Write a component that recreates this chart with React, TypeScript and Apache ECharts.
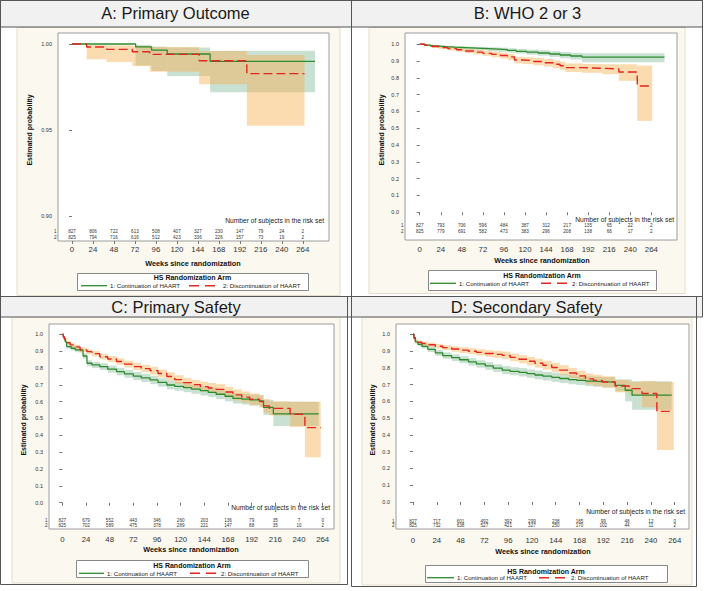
import React, { useEffect, useRef } from "react";
import * as echarts from "echarts";

const FONT = '"Liberation Sans", Arial, sans-serif';
const GREEN = "#2e8b2e";
const RED = "#e3261f";
const GREEN_BAND = "rgba(100,170,130,0.35)";
const ORANGE_BAND = "rgba(247,175,80,0.45)";

const weekTicks = [0, 24, 48, 72, 96, 120, 144, 168, 192, 216, 240, 264];
const probTicksA = [0.9, 0.95, 1.0];
const probTicks = [0, 0.1, 0.2, 0.3, 0.4, 0.5, 0.6, 0.7, 0.8, 0.9, 1.0];
const armNames = ["1: Continuation of HAART", "2: Discontinuation of HAART"];
const legendTitle = "HS Randomization Arm";
const xTitle = "Weeks since randomization";
const yTitle = "Estimated probability";
const riskTitle = "Number of subjects in the risk set";
const panelTitles = ["A: Primary Outcome", "B: WHO 2 or 3", "C: Primary Safety", "D: Secondary Safety"];

// ---- Panel A: Primary Outcome ----
const aTimes1 = [0, 72.8, 91, 109, 158];
const aSurv1 = [1, 0.9983, 0.9965, 0.9942, 0.9899];
const aLow1 = [1, 0.9875, 0.9843, 0.9814, 0.9719];
const aHigh1 = [1, 0.9995, 0.9985, 0.9979, 0.9961];
const aEnd1 = 278;
const aTimes2 = [0, 16.8, 39.6, 69, 89, 145.5, 200];
const aSurv2 = [1, 0.9983, 0.9969, 0.9955, 0.994, 0.9903, 0.9828];
const aLow2 = [1, 0.9911, 0.9895, 0.9872, 0.9839, 0.9766, 0.9525];
const aHigh2 = [1, 0.9994, 0.9992, 0.9988, 0.9983, 0.9959, 0.9936];
const aEnd2 = 266;
const aRisk1 = [827, 806, 722, 613, 508, 407, 327, 230, 147, 79, 24, 2];
const aRisk2 = [825, 794, 716, 616, 512, 423, 336, 226, 157, 73, 19, 2];

// ---- Panel B: WHO 2 or 3 ----
const bTimes1 = [0, 5, 12, 20, 30, 40, 52, 65, 78, 90, 100, 110, 122, 135, 148, 160, 172, 185];
const bSurv1 = [1, 0.995, 0.99, 0.986, 0.983, 0.98, 0.977, 0.974, 0.971, 0.968, 0.963, 0.958, 0.953, 0.948, 0.942, 0.936, 0.93, 0.924];
const bLow1 = [1, 0.99, 0.984, 0.979, 0.975, 0.971, 0.967, 0.963, 0.959, 0.955, 0.95, 0.944, 0.938, 0.932, 0.925, 0.917, 0.909, 0.893];
const bHigh1 = [1, 0.999, 0.995, 0.992, 0.99, 0.988, 0.986, 0.984, 0.982, 0.98, 0.976, 0.972, 0.968, 0.964, 0.959, 0.954, 0.949, 0.946];
const bEnd1 = 279;
const bTimes2 = [0, 6, 14, 22, 32, 42, 52, 62, 72, 82, 92, 100, 108, 118, 130, 142, 152, 160, 166, 185, 208, 227, 248];
const bSurv2 = [1, 0.994, 0.987, 0.981, 0.974, 0.967, 0.96, 0.953, 0.946, 0.94, 0.933, 0.925, 0.906, 0.903, 0.897, 0.89, 0.881, 0.872, 0.861, 0.857, 0.853, 0.835, 0.752];
const bLow2 = [1, 0.988, 0.979, 0.971, 0.963, 0.955, 0.947, 0.939, 0.931, 0.923, 0.915, 0.906, 0.886, 0.882, 0.875, 0.867, 0.857, 0.847, 0.835, 0.83, 0.822, 0.782, 0.544];
const bHigh2 = [1, 0.999, 0.994, 0.99, 0.985, 0.979, 0.973, 0.967, 0.961, 0.956, 0.95, 0.943, 0.925, 0.923, 0.918, 0.912, 0.904, 0.896, 0.886, 0.883, 0.881, 0.881, 0.873];
const bEnd2 = 265;
const bRisk1 = [827, 793, 706, 596, 484, 387, 312, 217, 135, 65, 22, 2];
const bRisk2 = [825, 779, 691, 582, 473, 383, 296, 208, 138, 66, 17, 2];

// ---- Panel C: Primary Safety ----
const cTimes1 = [0, 1, 2, 3, 4.4, 9, 13, 21, 25, 30, 38, 46, 55, 63, 72, 80, 89, 97, 106, 114, 123, 131, 140, 148, 156, 165, 173, 182, 190, 200, 204, 214];
const cSurv1 = [1.0, 0.985, 0.97, 0.955, 0.927, 0.917, 0.907, 0.871, 0.828, 0.818, 0.808, 0.793, 0.778, 0.765, 0.752, 0.741, 0.729, 0.714, 0.699, 0.691, 0.683, 0.674, 0.665, 0.655, 0.644, 0.632, 0.62, 0.615, 0.61, 0.605, 0.566, 0.527];
const cLow1 = [1.0, 0.979, 0.962, 0.945, 0.915, 0.904, 0.893, 0.855, 0.81, 0.799, 0.788, 0.772, 0.756, 0.742, 0.728, 0.717, 0.704, 0.689, 0.673, 0.665, 0.656, 0.647, 0.637, 0.627, 0.615, 0.602, 0.589, 0.583, 0.577, 0.571, 0.521, 0.455];
const cHigh1 = [1.0, 0.991, 0.978, 0.965, 0.939, 0.93, 0.921, 0.887, 0.846, 0.837, 0.828, 0.814, 0.8, 0.788, 0.776, 0.765, 0.754, 0.739, 0.725, 0.717, 0.71, 0.701, 0.693, 0.683, 0.673, 0.662, 0.651, 0.647, 0.643, 0.639, 0.611, 0.6];
const cEnd1 = 260;
const cTimes2 = [0, 1, 2, 3, 5, 8, 12, 18, 25, 30, 38, 46, 55, 63, 72, 80, 89, 97, 106, 114, 123, 131, 140, 148, 156, 165, 173, 182, 190, 200, 204, 210, 231, 246];
const cSurv2 = [1.0, 0.985, 0.975, 0.965, 0.95, 0.937, 0.925, 0.907, 0.897, 0.885, 0.867, 0.853, 0.838, 0.823, 0.808, 0.796, 0.784, 0.767, 0.749, 0.731, 0.713, 0.701, 0.689, 0.681, 0.673, 0.657, 0.64, 0.627, 0.614, 0.6, 0.575, 0.56, 0.525, 0.446];
const cLow2 = [1.0, 0.979, 0.967, 0.955, 0.939, 0.925, 0.912, 0.893, 0.882, 0.869, 0.85, 0.835, 0.819, 0.803, 0.787, 0.774, 0.761, 0.743, 0.724, 0.705, 0.686, 0.673, 0.66, 0.651, 0.642, 0.625, 0.607, 0.593, 0.579, 0.564, 0.535, 0.518, 0.45, 0.27];
const cHigh2 = [1.0, 0.991, 0.983, 0.975, 0.961, 0.949, 0.938, 0.921, 0.912, 0.901, 0.884, 0.871, 0.857, 0.843, 0.829, 0.818, 0.807, 0.791, 0.774, 0.757, 0.74, 0.729, 0.718, 0.711, 0.704, 0.689, 0.673, 0.661, 0.649, 0.636, 0.615, 0.602, 0.6, 0.6];
const cEnd2 = 262;
const cRisk1 = [827, 679, 552, 443, 346, 260, 203, 136, 79, 35, 7, 0];
const cRisk2 = [825, 702, 589, 475, 378, 289, 221, 147, 88, 35, 10, 2];

// ---- Panel D: Secondary Safety ----
const dTimes1 = [0, 1, 2.4, 5, 9, 15, 22.5, 30, 39, 47, 56, 64, 73, 81, 90, 98, 107, 115, 123, 131, 140, 148, 157, 165, 174, 182, 191, 204, 214, 221];
const dSurv1 = [1.0, 0.975, 0.955, 0.94, 0.928, 0.91, 0.889, 0.873, 0.86, 0.848, 0.835, 0.823, 0.811, 0.798, 0.786, 0.779, 0.773, 0.765, 0.757, 0.75, 0.743, 0.736, 0.73, 0.725, 0.72, 0.717, 0.714, 0.695, 0.666, 0.637];
const dLow1 = [1.0, 0.969, 0.945, 0.928, 0.914, 0.894, 0.871, 0.854, 0.84, 0.827, 0.813, 0.801, 0.788, 0.775, 0.762, 0.755, 0.748, 0.74, 0.731, 0.724, 0.716, 0.709, 0.702, 0.697, 0.691, 0.687, 0.683, 0.66, 0.6, 0.55];
const dHigh1 = [1.0, 0.981, 0.965, 0.952, 0.942, 0.926, 0.907, 0.892, 0.88, 0.869, 0.857, 0.845, 0.834, 0.821, 0.81, 0.803, 0.798, 0.79, 0.783, 0.776, 0.77, 0.763, 0.758, 0.753, 0.749, 0.747, 0.745, 0.73, 0.73, 0.72];
const dEnd1 = 261;
const dTimes2 = [0, 1, 2.4, 5, 9, 15, 22.5, 30, 39, 47, 56, 64, 73, 81, 90, 98, 107, 115, 123, 131, 140, 148, 157, 165, 174, 182, 191, 204, 218, 231, 246];
const dSurv2 = [1.0, 0.98, 0.963, 0.952, 0.945, 0.937, 0.928, 0.92, 0.912, 0.905, 0.899, 0.892, 0.885, 0.88, 0.874, 0.862, 0.851, 0.839, 0.827, 0.815, 0.802, 0.786, 0.769, 0.752, 0.734, 0.725, 0.715, 0.691, 0.676, 0.647, 0.54];
const dLow2 = [1.0, 0.974, 0.954, 0.941, 0.933, 0.924, 0.914, 0.905, 0.896, 0.888, 0.881, 0.873, 0.865, 0.859, 0.852, 0.839, 0.827, 0.814, 0.801, 0.788, 0.774, 0.757, 0.739, 0.721, 0.702, 0.692, 0.681, 0.654, 0.636, 0.565, 0.31];
const dHigh2 = [1.0, 0.986, 0.972, 0.963, 0.957, 0.95, 0.942, 0.935, 0.928, 0.922, 0.917, 0.911, 0.905, 0.901, 0.896, 0.885, 0.875, 0.864, 0.853, 0.842, 0.83, 0.815, 0.799, 0.783, 0.766, 0.758, 0.749, 0.728, 0.716, 0.72, 0.715];
const dEnd2 = 263;
const dRisk1 = [827, 717, 601, 492, 392, 299, 238, 165, 99, 48, 12, 0];
const dRisk2 = [825, 732, 638, 527, 421, 327, 250, 170, 102, 44, 11, 2];

const panelData = [
  { t1: aTimes1, s1: aSurv1, l1: aLow1, h1: aHigh1, e1: aEnd1, t2: aTimes2, s2: aSurv2, l2: aLow2, h2: aHigh2, e2: aEnd2, r1: aRisk1, r2: aRisk2 },
  { t1: bTimes1, s1: bSurv1, l1: bLow1, h1: bHigh1, e1: bEnd1, t2: bTimes2, s2: bSurv2, l2: bLow2, h2: bHigh2, e2: bEnd2, r1: bRisk1, r2: bRisk2 },
  { t1: cTimes1, s1: cSurv1, l1: cLow1, h1: cHigh1, e1: cEnd1, t2: cTimes2, s2: cSurv2, l2: cLow2, h2: cHigh2, e2: cEnd2, r1: cRisk1, r2: cRisk2 },
  { t1: dTimes1, s1: dSurv1, l1: dLow1, h1: dHigh1, e1: dEnd1, t2: dTimes2, s2: dSurv2, l2: dLow2, h2: dHigh2, e2: dEnd2, r1: dRisk1, r2: dRisk2 },
];

// ---- layout (pixels) ----
const layouts = [
  {
    grid: { left: 58, top: 33, width: 271, height: 208 }, xMin: -16, xMax: 294, yMin: 0.8855, yMax: 1.0064,
    yTicks: probTicksA, yDigits: 2, xMargin: 4, riskOff: [10, 3.5], riskTitle: { x: 324, y: 220.7 },
    yName: { x: 29, y: 130 }, xName: { x: 193, y: 263 }, title: { x: 175.5, y: 13 },
    titleBar: { x: 0.5, y: 0.5, w: 351, h: 26.5 }, frame: { x: 0.5, y: 0.5, w: 351, h: 296 },
    beige: { x: 17, y: 27.5, w: 323, h: 268 },
    legend: { x: 77, y: 273, w: 231, h: 17, titleY: 277.5, itemY: 285.7, g: [81, 107], t1: 110, r: [189, 217], t2: 223 },
  },
  {
    grid: { left: 405, top: 33, width: 272, height: 207 }, xMin: -16.8, xMax: 293.3, yMin: -0.165, yMax: 1.067,
    yTicks: probTicks, yDigits: 1, xMargin: 5, riskOff: [14.7, 8.7], riskTitle: { x: 674, y: 219.3 },
    yName: { x: 381, y: 130 }, xName: { x: 542, y: 260 }, title: { x: 527.5, y: 13 },
    titleBar: { x: 351.5, y: 0.5, w: 351, h: 26.5 }, frame: { x: 351.5, y: 0.5, w: 351, h: 296 },
    beige: { x: 369, y: 27.5, w: 316, h: 266 },
    legend: { x: 428, y: 270, w: 228, h: 20, titleY: 275.7, itemY: 283.3, g: [430, 456], t1: 459, r: [541, 569], t2: 572 },
  },
  {
    grid: { left: 49, top: 324, width: 285, height: 205 }, xMin: -13.5, xMax: 275.5, yMin: -0.156, yMax: 1.061,
    yTicks: probTicks, yDigits: 1, xMargin: 6, riskOff: [9, 3.7], riskTitle: { x: 330, y: 507.7 },
    yName: { x: 23, y: 420 }, xName: { x: 191, y: 549.3 }, title: { x: 176, y: 307 },
    titleBar: { x: 0.5, y: 296.5, w: 351, h: 20.5 }, frame: { x: 0.5, y: 296.5, w: 347, h: 288 },
    beige: { x: 12, y: 317, w: 328, h: 266 },
    legend: { x: 76, y: 560, w: 232, h: 17, titleY: 565.7, itemY: 573.3, g: [79, 104], t1: 107, r: [190, 217], t2: 221 },
  },
  {
    grid: { left: 396, top: 324, width: 293, height: 205 }, xMin: -17.1, xMax: 278.4, yMin: -0.161, yMax: 1.061,
    yTicks: probTicks, yDigits: 1, xMargin: 7, riskOff: [8, 3.7], riskTitle: { x: 685, y: 511.7 },
    yName: { x: 372, y: 420 }, xName: { x: 543, y: 551.7 }, title: { x: 526.5, y: 307 },
    titleBar: { x: 351.5, y: 296.5, w: 351, h: 20.5 }, frame: { x: 351.5, y: 296.5, w: 345, h: 290 },
    beige: { x: 362, y: 317, w: 330, h: 268 },
    legend: { x: 425, y: 565, w: 242, h: 17, titleY: 571, itemY: 577.7, g: [427, 454], t1: 457, r: [539, 568], t2: 571 },
  },
];

function stepPoints(times: number[], surv: number[], end: number) {
  const pts = times.map((t, i) => [t, surv[i]]);
  pts.push([end, surv[surv.length - 1]]);
  return pts;
}
function bandRects(times: number[], low: number[], high: number[], end: number) {
  return times.map((t, i) => [t, i + 1 < times.length ? times[i + 1] : end, low[i], high[i]]);
}
function riskItems(r1: number[], r2: number[]) {
  const out: number[][] = [];
  weekTicks.forEach((w, i) => {
    out.push([w, r1[i], 1]);
    out.push([w, r2[i], 2]);
  });
  return out;
}

function txt(text: string, x: number, y: number, size: number, opts: any = {}) {
  return {
    type: "text", x, y, z: 30, silent: true, rotation: opts.rotation || 0,
    style: {
      text, fontSize: size, fontFamily: FONT, fontWeight: opts.bold ? "bold" : "normal",
      fill: opts.color || "#222",
      align: opts.align || "center", textAlign: opts.align || "center",
      verticalAlign: "middle", textVerticalAlign: "middle",
    },
  };
}

function buildOption() {
  const elements: any[] = [];
  const series: any[] = [];

  layouts.forEach((l, i) => {
    const d = panelData[i];
    // backgrounds and frames
    elements.push({ type: "rect", z: -10, silent: true, shape: { x: l.beige.x, y: l.beige.y, width: l.beige.w, height: l.beige.h }, style: { fill: "#fbf8ef", stroke: "#e4ddcd", lineWidth: 1 } });
    elements.push({ type: "rect", z: -9, silent: true, shape: { x: l.titleBar.x, y: l.titleBar.y, width: l.titleBar.w, height: l.titleBar.h }, style: { fill: "#f1f1f1", stroke: "#555", lineWidth: 1 } });
    elements.push({ type: "rect", z: 25, silent: true, shape: { x: l.frame.x, y: l.frame.y, width: l.frame.w, height: l.frame.h }, style: { fill: "none", stroke: "#555", lineWidth: 1 } });
    elements.push(txt(panelTitles[i], l.title.x, l.title.y, 16.5, { color: "#1a1a1a" }));
    // axis titles
    elements.push(txt(xTitle, l.xName.x, l.xName.y, 7.3, { bold: true, color: "#111" }));
    elements.push(txt(yTitle, l.yName.x, l.yName.y, 7, { bold: true, color: "#111", rotation: Math.PI / 2 }));
    // risk set titles and row labels
    elements.push(txt(riskTitle, l.riskTitle.x, l.riskTitle.y, 6.7, { align: "right", color: "#222" }));
    const bottom = l.grid.top + l.grid.height;
    elements.push(txt("1", l.grid.left - 1.5, bottom - l.riskOff[0], 4.6, { align: "right", color: "#333" }));
    elements.push(txt("2", l.grid.left - 1.5, bottom - l.riskOff[1], 4.6, { align: "right", color: "#333" }));
    // legend
    const lg = l.legend;
    elements.push({ type: "rect", z: 20, silent: true, shape: { x: lg.x + 0.5, y: lg.y + 0.5, width: lg.w, height: lg.h }, style: { fill: "#ffffff", stroke: "#888", lineWidth: 1 } });
    elements.push(txt(legendTitle, lg.x + lg.w / 2, lg.titleY, 7, { bold: true, color: "#111" }));
    elements.push({ type: "line", z: 30, silent: true, shape: { x1: lg.g[0], y1: lg.itemY, x2: lg.g[1], y2: lg.itemY }, style: { stroke: GREEN, lineWidth: 1.3 } });
    elements.push(txt(armNames[0], lg.t1, lg.itemY, 6.1, { align: "left", color: "#222" }));
    elements.push({ type: "line", z: 30, silent: true, shape: { x1: lg.r[0], y1: lg.itemY, x2: lg.r[1], y2: lg.itemY }, style: { stroke: RED, lineWidth: 1.4, lineDash: [10, 6] } });
    elements.push(txt(armNames[1], lg.t2, lg.itemY, 6.1, { align: "left", color: "#222" }));

    const bandRender = (fill: string) => (params: any, api: any) => {
      const a = api.coord([api.value(0), api.value(3)]);
      const b = api.coord([api.value(1), api.value(2)]);
      return { type: "rect", shape: { x: a[0], y: a[1], width: b[0] - a[0], height: b[1] - a[1] }, style: { fill } };
    };
    series.push({
      type: "custom", xAxisIndex: i, yAxisIndex: i, silent: true, z: 1,
      data: bandRects(d.t1, d.l1, d.h1, d.e1), encode: { x: [0, 1], y: [2, 3] },
      renderItem: bandRender(GREEN_BAND),
    });
    series.push({
      type: "custom", xAxisIndex: i, yAxisIndex: i, silent: true, z: 2,
      data: bandRects(d.t2, d.l2, d.h2, d.e2), encode: { x: [0, 1], y: [2, 3] },
      renderItem: bandRender(ORANGE_BAND),
    });
    series.push({
      type: "line", xAxisIndex: i, yAxisIndex: i, silent: true, z: 3, step: "end", symbol: "none",
      data: stepPoints(d.t1, d.s1, d.e1), lineStyle: { color: GREEN, width: 1.3 },
    });
    series.push({
      type: "line", xAxisIndex: i, yAxisIndex: i, silent: true, z: 4, step: "end", symbol: "none",
      data: stepPoints(d.t2, d.s2, d.e2), lineStyle: { color: RED, width: 1.4, type: [9, 4] },
    });
    const offs = l.riskOff;
    series.push({
      type: "custom", xAxisIndex: i, yAxisIndex: i, silent: true, z: 5,
      data: riskItems(d.r1, d.r2), encode: { x: 0 },
      renderItem: (params: any, api: any) => {
        const cs = params.coordSys;
        const x = api.coord([api.value(0), 0])[0];
        const row = api.value(2);
        const y = cs.y + cs.height - (row === 1 ? offs[0] : offs[1]);
        return {
          type: "text", x, y,
          style: { text: String(api.value(1)), fontSize: 4.6, fontFamily: FONT, fill: "#333", align: "center", textAlign: "center", verticalAlign: "middle", textVerticalAlign: "middle" },
        };
      },
    });
  });

  return {
    animation: false,
    backgroundColor: "#ffffff",
    textStyle: { fontFamily: FONT },
    grid: layouts.map((l) => ({
      left: l.grid.left, top: l.grid.top, width: l.grid.width, height: l.grid.height,
      show: true, backgroundColor: "#ffffff", borderColor: "#9c9c9c", borderWidth: 1,
      containLabel: false, outerBoundsMode: "none",
    })),
    xAxis: layouts.map((l, i) => ({
      type: "value", gridIndex: i, min: l.xMin, max: l.xMax,
      axisLine: { show: false }, splitLine: { show: false },
      axisTick: { show: true, customValues: weekTicks, length: 3, lineStyle: { color: "#777" } },
      axisLabel: { customValues: weekTicks, fontSize: 7.8, color: "#333", margin: l.xMargin, fontFamily: FONT },
    })),
    yAxis: layouts.map((l, i) => ({
      type: "value", gridIndex: i, min: l.yMin, max: l.yMax,
      axisLine: { show: false }, splitLine: { show: false },
      axisTick: { show: true, customValues: l.yTicks, length: 3, lineStyle: { color: "#777" } },
      axisLabel: {
        customValues: l.yTicks, fontSize: 5.5, color: "#333", margin: 6, fontFamily: FONT,
        formatter: (v: number) => v.toFixed(l.yDigits),
      },
    })),
    graphic: { elements },
    series,
  };
}

export default function App() {
  const ref = useRef<HTMLDivElement>(null);
  useEffect(() => {
    if (!ref.current) return;
    const chart = echarts.init(ref.current, null, { renderer: "svg" });
    chart.setOption(buildOption() as any);
    return () => chart.dispose();
  }, []);
  return <div ref={ref} style={{ position: "absolute", left: 0, top: 0, width: 704, height: 591 }} />;
}
